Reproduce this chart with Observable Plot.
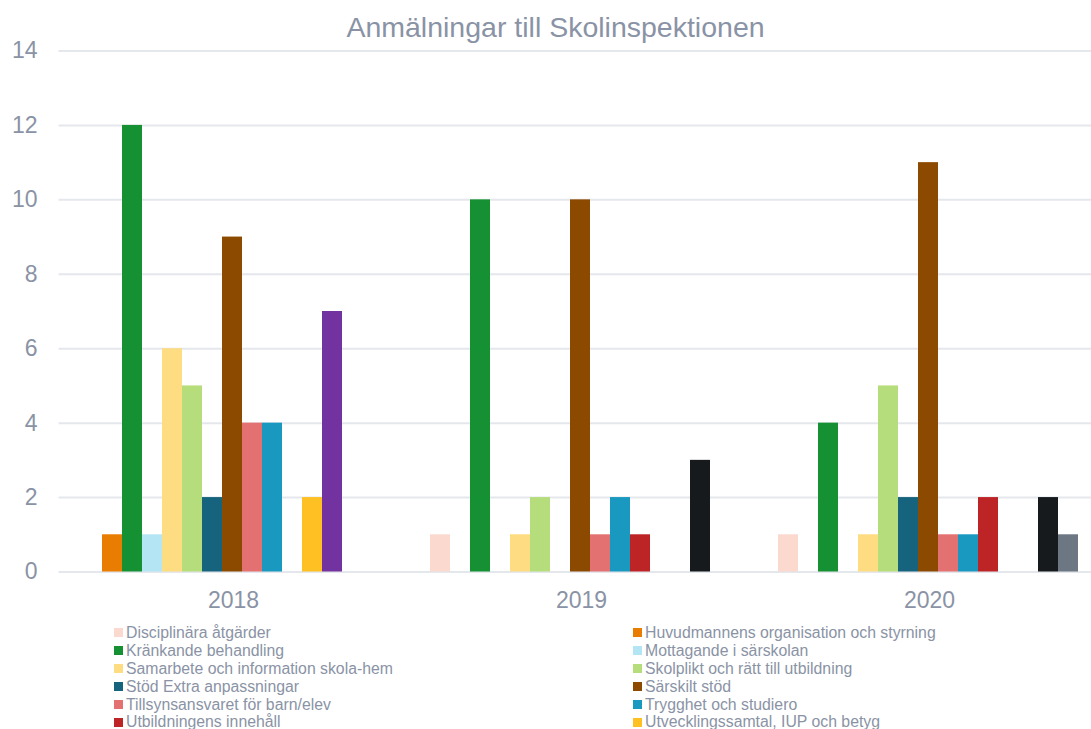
<!DOCTYPE html>
<html>
<head>
<meta charset="utf-8">
<script src="https://cdn.jsdelivr.net/npm/d3@7"></script>
<script src="https://cdn.jsdelivr.net/npm/@observablehq/plot@0.6"></script>
<style>
  html, body { margin: 0; padding: 0; background: #fff; overflow: hidden; }
  body { width: 1091px; height: 729px; font-family: "Liberation Sans", Arial, sans-serif; }
  #wrap { position: relative; width: 1091px; height: 615px; overflow: hidden; }
  #wrap svg { position: absolute; left: 0; top: 0; max-width: none !important; }
  #title { position: absolute; left: 10px; top: 0; width: 1091px; text-align: center;
           font-size: 28.5px; color: #8a93a5; line-height: 1; padding-top: 13px; z-index: 2; }
  #legend { display: grid; grid-template-columns: 519px 458px; padding-left: 114px;
            padding-top: 9px; font-size: 15.8px; line-height: 17.9px; color: #8a93a5; }
  .item { display: flex; align-items: center; white-space: nowrap; height: 17.9px; }
  .sw { width: 9px; height: 9px; margin-right: 3px; flex: none; }
</style>
</head>
<body>
<div id="wrap"><div id="title">Anmälningar till Skolinspektionen</div></div>
<div id="legend"></div>
<script>
const years = ["2018", "2019", "2020"];
const series = [
  "Disciplinära åtgärder",
  "Huvudmannens organisation och styrning",
  "Kränkande behandling",
  "Mottagande i särskolan",
  "Samarbete och information skola-hem",
  "Skolplikt och rätt till utbildning",
  "Stöd Extra anpassningar",
  "Särskilt stöd",
  "Tillsynsansvaret för barn/elev",
  "Trygghet och studiero",
  "Utbildningens innehåll",
  "Utvecklingssamtal, IUP och betyg",
  "Val av skola",
  "Verksamhetens kvalitet",
  "Vårdnadshavares inflytande"
];
const colors = [
  "#fbd9cf", "#e97d01", "#159033", "#b4e5f4", "#fddc82", "#b5dd7c", "#15637c",
  "#8b4a00", "#e47171", "#1998c0", "#bd2426", "#fec023", "#7232a0", "#161a1d", "#6c7783"
];
// values per series for each year
const values2018 = [0, 1, 12, 1, 6, 5, 2, 9, 4, 4, 0, 2, 7, 0, 0];
const values2019 = [1, 0, 10, 0, 1, 2, 0, 10, 1, 2, 1, 0, 0, 3, 0];
const values2020 = [1, 0, 4, 0, 1, 5, 2, 11, 1, 1, 2, 0, 0, 2, 1];
const yTicks = [0, 2, 4, 6, 8, 10, 12, 14];

const table = [];
[values2018, values2019, values2020].forEach((vals, yi) => {
  vals.forEach((v, si) => table.push({year: years[yi], series: series[si], value: v}));
});

const W = 1103, H = 615;
const common = {
  width: W, height: H,
  marginLeft: 58.5, marginRight: 0, marginTop: 50.5, marginBottom: 43.5,
  style: {background: "transparent", fontFamily: "'Liberation Sans', Arial, sans-serif", overflow: "hidden", maxWidth: "none"}
};
const textColor = "#8a93a5";

// Background: grid, y axis, year labels
const back = Plot.plot({
  ...common,
  x: {domain: years, paddingInner: 0.129, paddingOuter: 0.0647, label: null},
  y: {domain: [0, 14], label: null},
  marks: [
    Plot.ruleY(yTicks, {stroke: "#e4e7eb", strokeWidth: 2}),
    Plot.axisY({ticks: yTicks, tickSize: 0, tickPadding: 21.5, fontSize: 23, color: textColor, label: null}),
    Plot.axisX({tickSize: 0, tickPadding: 20, fontSize: 23, color: textColor, label: null})
  ]
});

// Foreground: grouped bars
const front = Plot.plot({
  ...common,
  marginLeft: 57, marginRight: 1.5,
  fx: {domain: years, paddingInner: 0.129, paddingOuter: 0.0647, axis: null, label: null},
  x: {domain: series, padding: 0, axis: null},
  y: {domain: [0, 14], axis: null},
  color: {domain: series, range: colors},
  marks: [
    Plot.barY(table.filter(d => d.value > 0), {
      fx: "year", x: "series", y: "value", fill: "series", insetLeft: 0, insetRight: 0
    })
  ]
});

const wrap = document.getElementById("wrap");
wrap.appendChild(back);
wrap.appendChild(front);

const legend = document.getElementById("legend");
series.forEach((s, i) => {
  const item = document.createElement("div");
  item.className = "item";
  const sw = document.createElement("span");
  sw.className = "sw";
  sw.style.background = colors[i];
  const t = document.createElement("span");
  t.textContent = s;
  item.appendChild(sw);
  item.appendChild(t);
  legend.appendChild(item);
});
</script>
</body>
</html>
